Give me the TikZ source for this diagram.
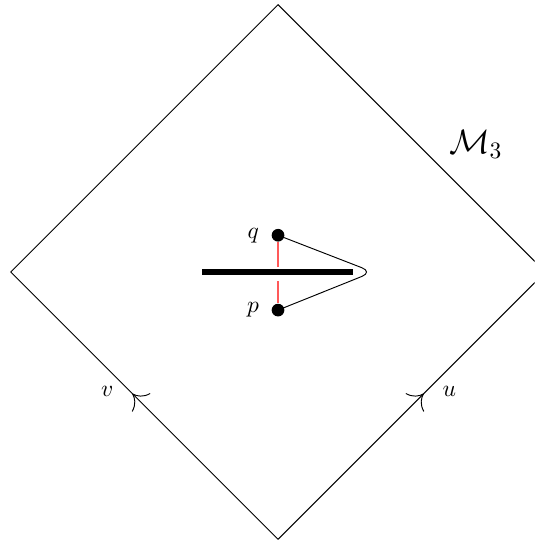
\documentclass[tikz,border=0pt]{standalone}
\usepackage{amsmath,amssymb}
\usetikzlibrary{arrows.meta,positioning,calc,decorations.markings}

\tikzset{
  pt/.style={circle,fill=black,inner sep=0pt,minimum size=1.9mm},
  nullarrow/.style={postaction={decorate},
    decoration={markings,mark=at position 0.545 with {\arrow{Computer Modern Rightarrow[length=5.5pt,width=11pt]}}}},
}

\begin{document}
\begin{tikzpicture}[>=Stealth]
\useasboundingbox (-4.16,-4.01) rectangle (3.84,4.07);
\clip (-4.16,-4.01) rectangle (3.84,4.07);
% corners of the diamond
\coordinate (top) at (0,4);
\coordinate (left) at (-4,0);
\coordinate (right) at (4,0);
\coordinate (bot) at (0,-4);
\draw (left) -- (top) -- (right);
\draw[nullarrow] (bot) -- (left) node[pos=0.545,left=1.6mm,yshift=1pt] {$v$};
\draw[nullarrow] (bot) -- (right) node[pos=0.545,right=1.6mm,yshift=1pt] {$u$};
\node (M) at (2.96,1.91) {\Large $\mathcal{M}_3$};
% the cut and the two points
\coordinate (cutL) at (-1.13,0);
\coordinate (cutR) at (1.12,0);
\draw[line width=2.4pt] (cutL) -- (cutR);
\node[pt] (q) at (0,0.55) {};
\node[pt] (p) at (0,-0.57) {};
\node[left=0.6mm of q] {$q$};
\node[left=0.6mm of p] {$p$};
\coordinate (tip) at (1.42,0);
\draw[rounded corners=5pt] (q.center) -- (tip) -- (p.center);
\draw[red!65,line width=0.6pt] (q) -- (0,0.08);
\draw[red!65,line width=0.6pt] (0,-0.14) -- (p);
\end{tikzpicture}
\end{document}
